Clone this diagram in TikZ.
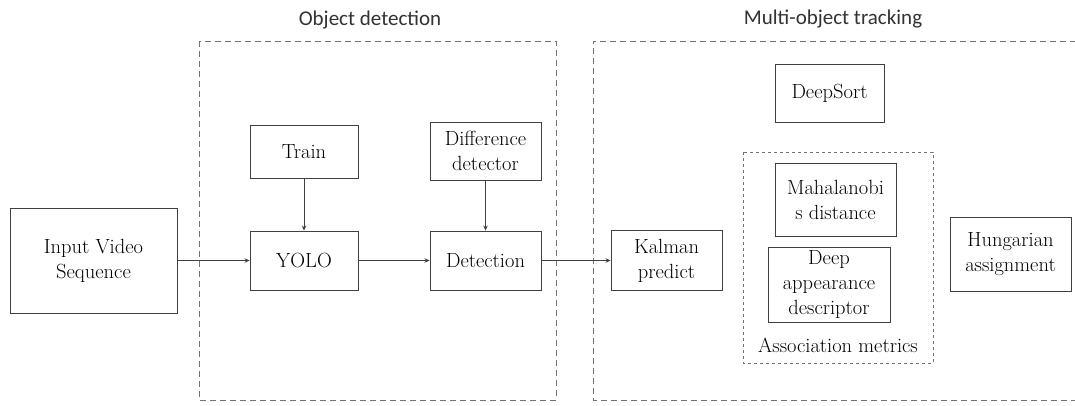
\documentclass[tikz,border=0pt]{standalone}
\usepackage{fontspec}
\newfontfamily\headfont{Carlito}
\usetikzlibrary{arrows.meta}

\begin{document}
\begin{tikzpicture}[x=1pt, y=-1pt,
    box/.style={draw=black!75, line width=0.9pt, align=center, inner sep=1pt,
      font=\fontsize{20.5}{25}\selectfont},
    groupbox/.style={draw=black!55, line width=0.9pt, dash pattern=on 6pt off 4pt},
    metricbox/.style={draw=black!55, line width=0.9pt, dash pattern=on 3pt off 3pt},
    heading/.style={font=\headfont\fontsize{21}{25}\selectfont, text=black!80},
    flow/.style={draw=black!75, line width=0.8pt, -{Stealth[length=5pt, width=4.5pt]}}]
  \useasboundingbox[fill=white] (0,0) rectangle (1075,405);

  % group frames
  \draw[groupbox] (199,41) rectangle (556,400);
  \draw[groupbox] (1076,41) -- (593,41) -- (593,400) -- (1076,400);
  \draw[metricbox] (743,152) rectangle (933,363);
  \node[heading] (odtitle) at (370,20) {Object detection};
  \node[heading] (mottitle) at (833,19) {Multi-object tracking};

  % object detection
  \node[box, minimum width=167, minimum height=105] (input) at (93.5,260.5)
    {Input Video\\Sequence};
  \node[box, minimum width=108, minimum height=53] (train) at (304,151.5) {Train};
  \node[box, minimum width=108, minimum height=59] (yolo) at (304,260.5) {YOLO};
  \node[box, minimum width=111, minimum height=58] (diff) at (485.5,151)
    {Difference\\detector};
  \node[box, minimum width=111, minimum height=59] (detect) at (485.5,260.5)
    {Detection};

  % tracking
  \node[box, minimum width=111, minimum height=60] (kalman) at (666.5,260.5)
    {Kalman\\predict};
  \node[box, minimum width=109, minimum height=58] (deepsort) at (829.5,93)
    {DeepSort};
  \node[box, minimum width=121, minimum height=73] (maha) at (835.5,199.5)
    {Mahalanobi\\s distance};
  \node[box, minimum width=122, minimum height=75] (appear) at (829,284.5)
    {Deep\\appearance\\descriptor};
  \node[font=\fontsize{20.5}{25}\selectfont] (assoc) at (838,345)
    {Association metrics};
  \node[box, minimum width=121, minimum height=74] (hung) at (1010.5,254)
    {Hungarian\\assignment};

  % connectors
  \draw[flow] (input) -- (yolo);
  \draw[flow] (yolo) -- (detect);
  \draw[flow] (detect) -- (kalman);
  \draw[flow] (train) -- (yolo);
  \draw[flow] (diff) -- (detect);
\end{tikzpicture}
\end{document}
